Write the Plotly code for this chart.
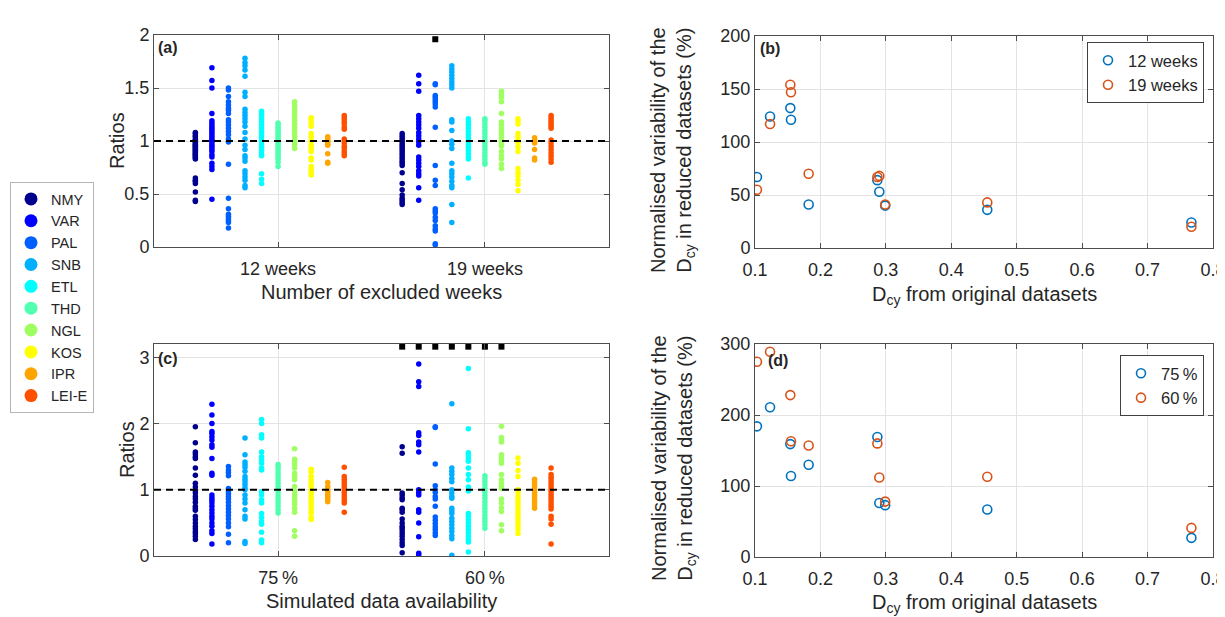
import plotly.graph_objects as go

W, H = 1225, 617          # browser window
BODY = 8                  # default page margin of the html body
FW, FH = W - BODY, H - BODY

stations = ["NMY", "VAR", "PAL", "SNB", "ETL", "THD", "NGL", "KOS", "IPR", "LEI-E"]
colors = ["#00008F", "#0000FF", "#0060FF", "#00AFFF", "#00FFFF",
          "#50FFB0", "#A0FF60", "#FFFF00", "#FFA500", "#FF5000"]
week_groups = ["12 weeks", "19 weeks"]
avail_groups = ["75\u2009%", "60\u2009%"]

# ---- panel (a): ratios, 12 weeks excluded ----
NMY_12w = [1.08, 1.07, 1.05, 1.04, 1.02, 1.01, 1.0, 0.99, 0.98, 0.97, 0.96, 0.95, 0.94, 0.93, 0.92, 0.91,
           0.9, 0.89, 0.88, 0.87, 0.86, 0.85, 0.84, 0.83, 0.65, 0.63, 0.62, 0.6, 0.52, 0.44, 0.43]
VAR_12w = [1.69, 1.57, 1.5, 1.26, 1.19, 1.17, 1.15, 1.13, 1.11, 1.09, 1.07, 1.05, 1.03, 1.01, 1.0, 0.98,
           0.96, 0.94, 0.92, 0.9, 0.87, 0.85, 0.79, 0.76, 0.73, 0.45]
PAL_12w = [1.5, 1.48, 1.42, 1.37, 1.34, 1.31, 1.29, 1.26, 1.2, 1.18, 1.15, 1.12, 1.09, 1.06, 1.02, 0.99,
           0.78, 0.46, 0.36, 0.31, 0.29, 0.27, 0.25, 0.23, 0.18]
SNB_12w = [1.78, 1.74, 1.71, 1.67, 1.61, 1.46, 1.42, 1.3, 1.27, 1.24, 1.21, 1.18, 1.14, 1.08, 1.02, 0.96,
           0.92, 0.86, 0.84, 0.81, 0.72, 0.69, 0.66, 0.63, 0.58, 0.56]
ETL_12w = [1.28, 1.26, 1.24, 1.21, 1.18, 1.15, 1.12, 1.09, 1.06, 1.03, 1.0, 0.97, 0.94, 0.91, 0.88, 0.86,
           0.69, 0.64, 0.6]
THD_12w = [1.17, 1.15, 1.13, 1.11, 1.09, 1.07, 1.05, 1.03, 1.01, 0.99, 0.97, 0.95, 0.93, 0.91, 0.89, 0.87,
           0.85, 0.83, 0.8, 0.76]
NGL_12w = [1.37, 1.34, 1.31, 1.28, 1.25, 1.22, 1.19, 1.16, 1.13, 1.1, 1.07, 1.04, 1.01, 0.98, 0.96, 0.93]
KOS_12w = [1.22, 1.2, 1.17, 1.14, 1.07, 1.04, 1.0, 0.96, 0.93, 0.9, 0.84, 0.82, 0.76, 0.73, 0.7, 0.68]
IPR_12w = [1.04, 1.03, 1.01, 1.0, 0.99, 0.97, 0.96, 0.88, 0.8, 0.79]
LEI_12w = [1.24, 1.22, 1.2, 1.18, 1.16, 1.13, 1.11, 1.02, 1.0, 0.98, 0.95, 0.93, 0.9, 0.88, 0.86]

# ---- panel (a): ratios, 19 weeks excluded ----
NMY_19w = [1.07, 1.05, 1.03, 1.01, 0.99, 0.97, 0.95, 0.93, 0.91, 0.89, 0.87, 0.85, 0.83, 0.81, 0.79, 0.77,
           0.7, 0.6, 0.54, 0.49, 0.46, 0.44, 0.42, 0.4]
VAR_19w = [1.62, 1.54, 1.47, 1.24, 1.21, 1.18, 1.15, 1.12, 1.08, 1.05, 1.02, 0.99, 0.96, 0.85, 0.82, 0.79,
           0.76, 0.72, 0.69, 0.67, 0.56, 0.44]
PAL_19w = [1.54, 1.53, 1.43, 1.41, 1.39, 1.37, 1.35, 1.32, 1.13, 0.77, 0.63, 0.58, 0.36, 0.34, 0.32, 0.28,
           0.25, 0.2, 0.17, 0.15, 0.03, 0.02]
SNB_19w = [1.71, 1.68, 1.65, 1.62, 1.59, 1.56, 1.53, 1.5, 1.2, 1.18, 1.1, 1.0, 0.97, 0.93, 0.79, 0.72,
           0.69, 0.66, 0.62, 0.58, 0.56, 0.4, 0.23]
ETL_19w = [1.21, 1.18, 1.15, 1.12, 1.09, 1.06, 1.03, 1.0, 0.97, 0.94, 0.91, 0.88, 0.85, 0.83, 0.65]
THD_19w = [1.21, 1.19, 1.16, 1.13, 1.1, 1.07, 1.04, 1.01, 0.98, 0.95, 0.92, 0.89, 0.86, 0.83, 0.8, 0.78]
NGL_19w = [1.47, 1.44, 1.41, 1.37, 1.26, 1.18, 1.15, 1.12, 1.09, 1.06, 1.03, 1.0, 0.97, 0.95, 0.9, 0.86,
           0.83, 0.78, 0.74]
KOS_19w = [1.21, 1.19, 1.16, 1.07, 1.04, 1.01, 0.98, 0.94, 0.9, 0.74, 0.7, 0.67, 0.63, 0.59, 0.53]
IPR_19w = [1.03, 1.01, 0.99, 0.98, 0.92, 0.84, 0.82]
LEI_19w = [1.24, 1.22, 1.2, 1.18, 1.16, 1.14, 1.12, 1.01, 0.98, 0.95, 0.92, 0.89, 0.86, 0.83, 0.8]

# ---- panel (c): ratios, 75 % availability ----
NMY_75 = [1.95, 1.71, 1.57, 1.54, 1.5, 1.47, 1.33, 1.22, 1.1, 1.04, 0.99, 0.95, 0.9, 0.86, 0.81, 0.75,
          0.72, 0.69, 0.6, 0.55, 0.5, 0.45, 0.41, 0.37, 0.34, 0.3, 0.25]
VAR_75 = [2.29, 2.13, 2.0, 1.88, 1.85, 1.8, 1.75, 1.68, 1.64, 1.47, 1.25, 1.22, 0.92, 0.88, 0.84, 0.8,
          0.75, 0.7, 0.65, 0.6, 0.56, 0.5, 0.45, 0.38, 0.34, 0.18]
PAL_75 = [1.35, 1.3, 1.26, 1.21, 1.02, 0.98, 0.94, 0.9, 0.86, 0.81, 0.76, 0.71, 0.66, 0.61, 0.56, 0.5,
          0.44, 0.33, 0.2]
SNB_75 = [1.78, 1.53, 1.42, 1.38, 1.34, 1.28, 1.2, 1.16, 1.12, 1.08, 1.03, 1.0, 0.92, 0.86, 0.8, 0.7,
          0.6, 0.56, 0.22, 0.19]
ETL_75 = [2.06, 2.0, 1.83, 1.78, 1.57, 1.5, 1.45, 1.4, 1.33, 1.3, 0.97, 0.92, 0.85, 0.8, 0.64, 0.58,
          0.52, 0.48, 0.36, 0.24, 0.2]
THD_75 = [1.38, 1.34, 1.3, 1.25, 1.2, 1.15, 1.1, 1.05, 1.0, 0.95, 0.9, 0.85, 0.8, 0.75, 0.7, 0.65]
NGL_75 = [1.62, 1.46, 1.42, 1.38, 1.33, 1.25, 1.2, 1.15, 1.05, 0.98, 0.93, 0.88, 0.83, 0.78, 0.72, 0.66,
          0.38, 0.3]
KOS_75 = [1.31, 1.27, 1.2, 1.15, 1.1, 1.05, 1.0, 0.95, 0.9, 0.85, 0.8, 0.75, 0.7, 0.65, 0.58, 0.55]
IPR_75 = [1.11, 1.05, 1.0, 0.97, 0.94, 0.91, 0.88, 0.85, 0.82]
LEI_75 = [1.34, 1.2, 1.16, 1.12, 1.08, 1.04, 1.0, 0.96, 0.92, 0.88, 0.84, 0.8, 0.66]

# ---- panel (c): ratios, 60 % availability ----
NMY_60 = [1.65, 1.55, 0.95, 0.92, 0.88, 0.85, 0.72, 0.7, 0.66, 0.56, 0.5, 0.45, 0.42, 0.38, 0.34, 0.3,
          0.25, 0.2, 0.16, 0.05]
VAR_60 = [2.9, 2.63, 2.56, 1.86, 1.82, 1.72, 1.68, 1.57, 1.0, 0.96, 0.92, 0.7, 0.66, 0.5, 0.29, 0.04, 0.02]
PAL_60 = [1.95, 1.94, 1.39, 1.06, 1.0, 0.96, 0.9, 0.86, 0.75, 0.59, 0.54, 0.49, 0.44, 0.4, 0.35, 0.31]
SNB_60 = [2.3, 1.33, 1.28, 1.23, 1.17, 1.12, 1.0, 0.95, 0.9, 0.87, 0.72, 0.68, 0.64, 0.57, 0.52, 0.47,
          0.42, 0.37, 0.31, 0.26, 0.01]
ETL_60 = [2.83, 1.92, 1.56, 1.52, 1.47, 1.43, 1.33, 1.23, 1.15, 1.04, 0.98, 0.64, 0.6, 0.55, 0.5, 0.45,
          0.4, 0.35, 0.3, 0.25, 0.21, 0.06]
THD_60 = [1.21, 1.17, 1.12, 1.07, 1.02, 0.97, 0.92, 0.87, 0.82, 0.77, 0.72, 0.67, 0.62, 0.57, 0.52, 0.47, 0.42]
NGL_60 = [1.96, 1.79, 1.75, 1.72, 1.53, 1.48, 1.44, 1.4, 1.23, 1.15, 1.1, 1.05, 1.02, 0.86, 0.8, 0.73,
          0.67, 0.47, 0.38]
KOS_60 = [1.48, 1.4, 1.29, 1.2, 1.0, 0.95, 0.9, 0.85, 0.8, 0.75, 0.7, 0.65, 0.6, 0.55, 0.5, 0.45, 0.4, 0.34]
IPR_60 = [1.16, 1.12, 1.08, 1.04, 1.0, 0.96, 0.92, 0.88, 0.84, 0.8, 0.76, 0.72]
LEI_60 = [1.33, 1.23, 1.19, 1.15, 1.11, 1.07, 1.03, 0.99, 0.95, 0.91, 0.87, 0.83, 0.79, 0.75, 0.71, 0.6,
          0.56, 0.48, 0.18]

# ---- black square flags ----
flag_a_stations = ["PAL"]
flag_a_group = 2          # 19 weeks
flag_a_y = 1.96
flag_c_stations = ["NMY", "VAR", "PAL", "SNB", "ETL", "THD", "NGL"]
flag_c_group = 2          # 60 %
flag_c_y = 3.16

# ---- panels (b) and (d) ----
dcy_original = [0.103, 0.123, 0.154, 0.155, 0.182, 0.287, 0.290, 0.299, 0.455, 0.767]
var_12w = [67, 124, 132, 121, 41, 64, 53, 40, 36, 24]
var_19w = [55, 117, 154, 147, 70, 67, 68, 41, 43, 20]
var_75 = [184, 211, 159, 114, 130, 169, 76, 73, 67, 27]
var_60 = [275, 289, 228, 163, 157, 160, 112, 78, 113, 41]

# ------------------------------------------------------------------
weeks_data = [[NMY_12w, NMY_19w], [VAR_12w, VAR_19w], [PAL_12w, PAL_19w], [SNB_12w, SNB_19w],
              [ETL_12w, ETL_19w], [THD_12w, THD_19w], [NGL_12w, NGL_19w], [KOS_12w, KOS_19w],
              [IPR_12w, IPR_19w], [LEI_12w, LEI_19w]]
avail_data = [[NMY_75, NMY_60], [VAR_75, VAR_60], [PAL_75, PAL_60], [SNB_75, SNB_60],
              [ETL_75, ETL_60], [THD_75, THD_60], [NGL_75, NGL_60], [KOS_75, KOS_60],
              [IPR_75, IPR_60], [LEI_75, LEI_60]]

FONT = "Liberation Sans, Arial, sans-serif"
TXT = "#262626"
AX = "#4d4d4d"
GRID = "#e3e3e3"
BLUE = "#0072BD"
ORANGE = "#D95319"
STEP = 0.08


def offset(i):
    return (i - 5) * STEP


def px(x):
    return (x - BODY) / FW


def py(y):
    return 1 - (y - BODY) / FH


fig = go.Figure()

for panel_data, xa, ya in [(weeks_data, "x", "y"), (avail_data, "x3", "y3")]:
    for i, st in enumerate(stations):
        xs, ys = [], []
        for g, vals in enumerate(panel_data[i]):
            xs += [g + 1 + offset(i)] * len(vals)
            ys += vals
        fig.add_trace(go.Scatter(x=xs, y=ys, mode="markers", xaxis=xa, yaxis=ya,
                                 marker=dict(size=5.5, color=colors[i]), showlegend=False,
                                 hoverinfo="skip"))

# legend entries for stations
for i, st in enumerate(stations):
    fig.add_trace(go.Scatter(x=[None], y=[None], mode="markers", name=st, xaxis="x", yaxis="y",
                             marker=dict(size=13, color=colors[i]), legend="legend"))

# flags
fig.add_trace(go.Scatter(x=[flag_a_group + offset(stations.index(s)) for s in flag_a_stations],
                         y=[flag_a_y] * len(flag_a_stations), mode="markers", xaxis="x", yaxis="y",
                         marker=dict(symbol="square", size=6, color="black"), showlegend=False))
fig.add_trace(go.Scatter(x=[flag_c_group + offset(stations.index(s)) for s in flag_c_stations],
                         y=[flag_c_y] * len(flag_c_stations), mode="markers", xaxis="x3", yaxis="y3",
                         marker=dict(symbol="square", size=6, color="black"), showlegend=False))

# scatter panels
open_marker = lambda c: dict(symbol="circle-open", size=9, color=c, line=dict(width=1.6, color=c))
fig.add_trace(go.Scatter(x=dcy_original, y=var_12w, mode="markers", name="12 weeks", xaxis="x2", yaxis="y2",
                         marker=open_marker(BLUE), legend="legend2"))
fig.add_trace(go.Scatter(x=dcy_original, y=var_19w, mode="markers", name="19 weeks", xaxis="x2", yaxis="y2",
                         marker=open_marker(ORANGE), legend="legend2"))
fig.add_trace(go.Scatter(x=dcy_original, y=var_75, mode="markers", name="75\u2009%", xaxis="x4", yaxis="y4",
                         marker=open_marker(BLUE), legend="legend3"))
fig.add_trace(go.Scatter(x=dcy_original, y=var_60, mode="markers", name="60\u2009%", xaxis="x4", yaxis="y4",
                         marker=open_marker(ORANGE), legend="legend3"))


def dx(p0, p1):
    return [px(p0), px(p1)]


def dy(top, bottom):
    return [py(bottom), py(top)]


common = dict(showline=True, linecolor=AX, linewidth=1, mirror="ticks", ticks="inside", ticklen=5,
              tickcolor=AX, showgrid=True, gridcolor=GRID, gridwidth=1, zeroline=False,
              automargin=False, tickfont=dict(family=FONT, size=18, color=TXT))
xcommon = dict(common, ticklabelstandoff=5, ticklabeloverflow="allow")

fig.update_layout(
    template="none",
    width=FW, height=FH, margin=dict(l=0, r=0, t=0, b=0, pad=0),
    paper_bgcolor="white", plot_bgcolor="white",
    showlegend=True,
    xaxis=dict(domain=dx(154, 609), range=[0.4, 2.6], tickvals=[1, 2], ticktext=week_groups,
               anchor="y", **xcommon),
    yaxis=dict(domain=dy(35, 247), range=[0, 2], dtick=0.5, anchor="x", **common),
    xaxis3=dict(domain=dx(154, 609), range=[0.4, 2.6], tickvals=[1, 2], ticktext=avail_groups,
                anchor="y3", **xcommon),
    yaxis3=dict(domain=dy(344, 556), range=[0, 3.2], dtick=1, anchor="x3", **common),
    xaxis2=dict(domain=dx(755, 1213), range=[0.1, 0.8], dtick=0.1, anchor="y2", **xcommon),
    yaxis2=dict(domain=dy(36, 248), range=[0, 200], dtick=50, anchor="x2", **common),
    xaxis4=dict(domain=dx(755, 1213), range=[0.1, 0.8], dtick=0.1, anchor="y4", **xcommon),
    yaxis4=dict(domain=dy(344, 557), range=[0, 300], dtick=100, anchor="x4", **common),
    legend=dict(x=px(10), y=py(182), xanchor="left", yanchor="top", bgcolor="white",
                bordercolor="#b5b5b5", borderwidth=1, font=dict(family=FONT, size=14.5, color=TXT),
                itemsizing="trace"),
    legend2=dict(x=px(1204), y=py(42), xanchor="right", yanchor="top", bgcolor="white",
                 bordercolor="#404040", borderwidth=1, font=dict(family=FONT, size=16.5, color=TXT)),
    legend3=dict(x=px(1204), y=py(355), xanchor="right", yanchor="top", bgcolor="white",
                 bordercolor="#404040", borderwidth=1, font=dict(family=FONT, size=16.5, color=TXT)),
)

# dashed reference lines at ratio = 1
for ya, xa in [("y", "x"), ("y3", "x3")]:
    fig.add_shape(type="line", xref=f"{xa} domain", x0=0, x1=1, yref=ya, y0=1, y1=1,
                  line=dict(color="black", width=2, dash="7px,5px"))


def ann(text, x, y, size=20, angle=0, bold=False, xanchor="center"):
    fig.add_annotation(text=f"<b>{text}</b>" if bold else text, x=px(x), y=py(y),
                       xref="paper", yref="paper", showarrow=False, textangle=angle,
                       xanchor=xanchor, yanchor="middle",
                       font=dict(family=FONT, size=size, color=TXT))


# panel labels
ann("(a)", 156, 47, size=16, bold=True, xanchor="left")
ann("(b)", 758, 48, size=16, bold=True, xanchor="left")
ann("(c)", 156, 358, size=16, bold=True, xanchor="left")
ann("(d)", 766, 360, size=16, bold=True, xanchor="left")

# axis titles
ann("Ratios", 117, 141, angle=-90)
ann("Ratios", 127, 450, angle=-90)
ann("Number of excluded weeks", 381, 292)
ann("Simulated data availability", 381, 601)
ann("D<sub>cy</sub> from original datasets", 984, 295)
ann("D<sub>cy</sub> from original datasets", 984, 603)
ann("Normalised variability of the<br>D<sub>cy</sub> in reduced datasets (%)", 673, 150, angle=-90)
ann("Normalised variability of the<br>D<sub>cy</sub> in reduced datasets (%)", 673, 458, angle=-90)

fig.write_html("out.html")
